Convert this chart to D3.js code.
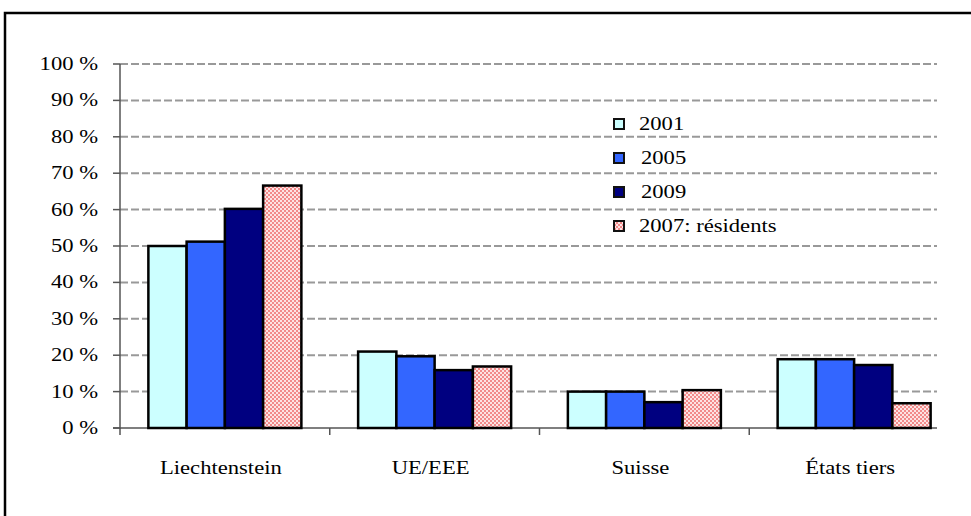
<!DOCTYPE html>
<html>
<head>
<meta charset="utf-8">
<script src="https://cdn.jsdelivr.net/npm/d3@7"></script>
<style>
  body { margin: 0; background: #fff; }
</style>
</head>
<body>
<svg id="chart" width="971" height="516"></svg>
<script>
// donnees
const categories = ["Liechtenstein", "UE/EEE", "Suisse", "États tiers"];
const series = ["2001", "2005", "2009", "2007: résidents"];
const v2001 = [50.0, 21.0, 10.0, 18.9];
const v2005 = [51.2, 19.7, 10.0, 18.9];
const v2009 = [60.2, 15.9, 7.1, 17.3];
const vResidents = [66.6, 16.9, 10.4, 6.8];
const yTicks = [0, 10, 20, 30, 40, 50, 60, 70, 80, 90, 100];

const couleurs = ["#ccffff", "#3366ff", "#000080", "url(#pois)"];
const valeurs = [v2001, v2005, v2009, vResidents];

const svg = d3.select("#chart");
const police = "'Liberation Serif', 'Times New Roman', 'DejaVu Serif', serif";
const fs = 19.5, sx = 1.16;

// motif rose a pois
const pat = svg.append("defs").append("pattern")
  .attr("id", "pois").attr("width", 4).attr("height", 4)
  .attr("patternUnits", "userSpaceOnUse");
pat.append("rect").attr("width", 4).attr("height", 4).attr("fill", "#f28a8a");
pat.append("rect").attr("x", 0).attr("y", 0).attr("width", 2).attr("height", 2).attr("fill", "#fde3e3");
pat.append("rect").attr("x", 2).attr("y", 2).attr("width", 2).attr("height", 2).attr("fill", "#fde3e3");

// cadre
svg.append("path")
  .attr("d", "M5,520 L5,13 L975,13")
  .attr("fill", "none").attr("stroke", "#000").attr("stroke-width", 2.5);

const left = 120, axisEnd = 937;
const x = d3.scaleBand().domain(categories).range([left, 959]).paddingInner(0).paddingOuter(0);
const xs = d3.scaleBand().domain(series).range([0, 153]);
const y = d3.scaleLinear().domain([0, 100]).range([428, 64]);

function label(x0, y0, txt, anchor) {
  svg.append("g").attr("transform", `translate(${x0},${y0}) scale(${sx},1)`)
    .append("text").attr("text-anchor", anchor || "start")
    .attr("font-family", police).attr("font-size", fs).attr("fill", "#000")
    .text(txt);
}

// grille
svg.selectAll(".grid").data(yTicks.filter(d => d > 0)).enter()
  .append("line").attr("class", "grid")
  .attr("x1", left).attr("x2", axisEnd)
  .attr("y1", d => y(d)).attr("y2", d => y(d))
  .attr("stroke", "#999").attr("stroke-width", 2).attr("stroke-dasharray", "8,3");

// axe y
svg.append("line").attr("x1", left).attr("x2", left).attr("y1", y(100)).attr("y2", y(0) + 1)
  .attr("stroke", "#555").attr("stroke-width", 1.5);
yTicks.forEach(t => {
  svg.append("line").attr("x1", left - 7).attr("x2", left).attr("y1", y(t)).attr("y2", y(t))
    .attr("stroke", "#555").attr("stroke-width", 1.5);
  label(98, y(t) + 6, t + " %", "end");
});

// axe x
svg.append("line").attr("x1", left - 7).attr("x2", axisEnd).attr("y1", y(0)).attr("y2", y(0))
  .attr("stroke", "#555").attr("stroke-width", 1.5);
categories.forEach(c => {
  svg.append("line").attr("x1", x(c)).attr("x2", x(c)).attr("y1", y(0)).attr("y2", y(0) + 7)
    .attr("stroke", "#555").attr("stroke-width", 1.5);
  label(x(c) + x.bandwidth() / 2 - 4, 474, c, "middle");
});

// barres
const off = (x.bandwidth() - 153) / 2;
series.forEach((s, i) => {
  svg.selectAll(".bar" + i).data(valeurs[i]).enter()
    .append("rect").attr("class", "bar" + i)
    .attr("x", (d, j) => x(categories[j]) + off + xs(s))
    .attr("y", d => y(d))
    .attr("width", xs.bandwidth())
    .attr("height", d => y(0) - y(d))
    .attr("fill", couleurs[i])
    .attr("stroke", "#000").attr("stroke-width", 2.5);
});

// legende
series.forEach((s, i) => {
  const by = 130 + i * 34;
  svg.append("rect").attr("x", 614).attr("y", by - 11).attr("width", 10).attr("height", 10)
    .attr("fill", couleurs[i]).attr("stroke", "#111").attr("stroke-width", 2);
  label(i === 1 || i === 2 ? 641 : 639, by, s);
});
</script>
</body>
</html>
